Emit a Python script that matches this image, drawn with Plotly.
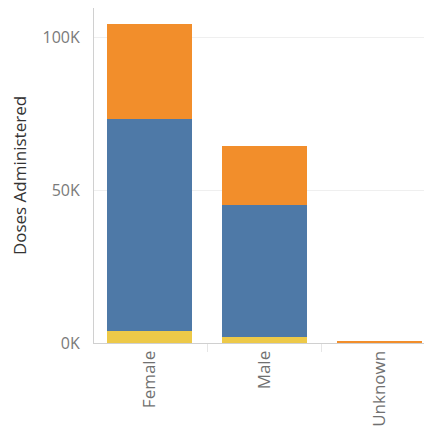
import plotly.graph_objects as go

categories = ["Female", "Male", "Unknown"]
series_names = ["Series C", "Series B", "Series A"]
bottom_vals = [3900, 2000, 0]          # yellow
middle_vals = [69200, 43100, 0]        # blue
top_vals = [31100, 19400, 600]         # orange
y_tickvals = [0, 50000, 100000]
y_ticktext = ["0K", "50K", "100K"]
colors = ["#EDC948", "#4E79A7", "#F28E2B"]

fig = go.Figure()
for name, vals, col in zip(series_names, [bottom_vals, middle_vals, top_vals], colors):
    fig.add_trace(go.Bar(x=categories, y=vals, name=name, marker=dict(color=col, line=dict(width=0))))

fig.update_layout(
    barmode="stack",
    bargap=0.26,
    width=424, height=428,
    margin=dict(l=86, r=0, t=0, b=93),
    paper_bgcolor="white", plot_bgcolor="white",
    showlegend=False,
    font=dict(family="Open Sans", size=17, color="#666"),
)
fig.update_xaxes(
    type="category",
    range=[-0.483, 2.457],
    tickangle=-90,
    tickson="boundaries",
    ticks="outside", ticklen=8, tickcolor="#e6e6e6", tickwidth=1,
    showline=True, linecolor="#d0d0d0", linewidth=1,
    showgrid=False,
    tickfont=dict(size=17, color="#707070"),
)
fig.update_yaxes(
    range=[0, 109500],
    tickvals=y_tickvals, ticktext=y_ticktext,
    showline=True, linecolor="#d0d0d0", linewidth=1,
    showgrid=True, gridcolor="#efefef", gridwidth=1,
    zeroline=False,
    ticks="", ticklabelstandoff=10,
    tickfont=dict(size=16, color="#7a7a7a"),
    title=dict(text="Doses Administered", font=dict(size=17, color="#333"), standoff=16),
)
fig.write_html("out.html")
